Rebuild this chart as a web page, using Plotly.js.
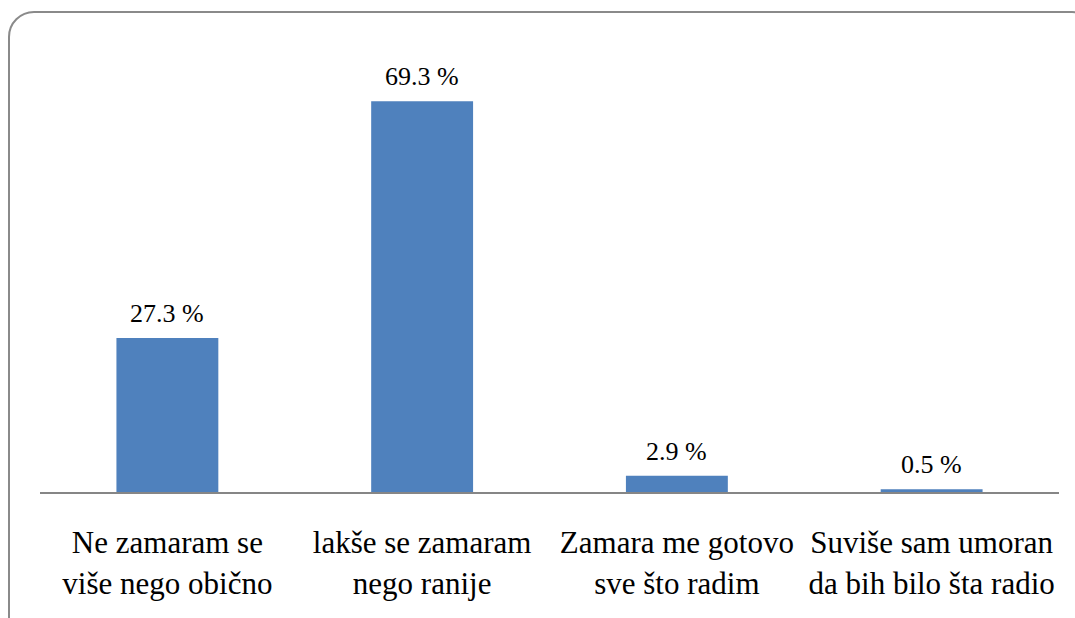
<!DOCTYPE html>
<html>
<head>
<meta charset="utf-8">
<script src="https://cdn.plot.ly/plotly-3.0.1.min.js"></script>
<style>
.main-svg text, .main-svg tspan { font-family: 'Liberation Serif', 'Times New Roman', serif !important; }
</style>
</head>
<body style="margin:0">
<div style="position:relative;width:1075px;height:618px;overflow:hidden;">
<div style="position:absolute;left:8px;top:11px;width:1090px;height:640px;border:2px solid #8a8a8a;border-radius:26px;box-sizing:border-box;"></div>
<div id="chart" style="position:absolute;left:0;top:0;"></div>
</div>
<script>
var categories = ["Ne zamaram se<br>više nego obično", "lakše se zamaram<br>nego ranije", "Zamara me gotovo<br>sve što radim", "Suviše sam umoran<br>da bih bilo šta radio"];
var values = [27.3, 69.3, 2.9, 0.5];
var valueLabels = values.map(function(v){ return v.toFixed(1) + " %"; });

var FONT = "Times New Roman";

var trace = {
  type: "bar",
  x: categories,
  y: values,
  marker: {color: "#4F81BD"},
  hoverinfo: "none"
};

var annotations = categories.map(function(c, i){
  return {x: c, y: values[i], xref: "x", yref: "y", text: valueLabels[i], showarrow: false,
    yanchor: "bottom", yshift: 8, font: {family: FONT, size: 26, color: "#000"}};
});

var layout = {
  width: 1075, height: 618,
  margin: {l: 40, r: 16, t: 41, b: 126},
  paper_bgcolor: "rgba(0,0,0,0)",
  plot_bgcolor: "rgba(0,0,0,0)",
  bargap: 0.6,
  showlegend: false,
  font: {family: FONT, color: "#000"},
  xaxis: {
    showline: true, linecolor: "#868686", linewidth: 2,
    ticks: "outside", ticklen: 22, tickcolor: "rgba(0,0,0,0)",
    tickfont: {family: FONT, size: 31, color: "#000"},
    showgrid: false, zeroline: false, fixedrange: true
  },
  yaxis: {
    range: [0, 80], visible: false, showgrid: false, zeroline: false, fixedrange: true
  },
  annotations: annotations
};

Plotly.newPlot("chart", [trace], layout, {displayModeBar: false});
</script>
</body>
</html>
